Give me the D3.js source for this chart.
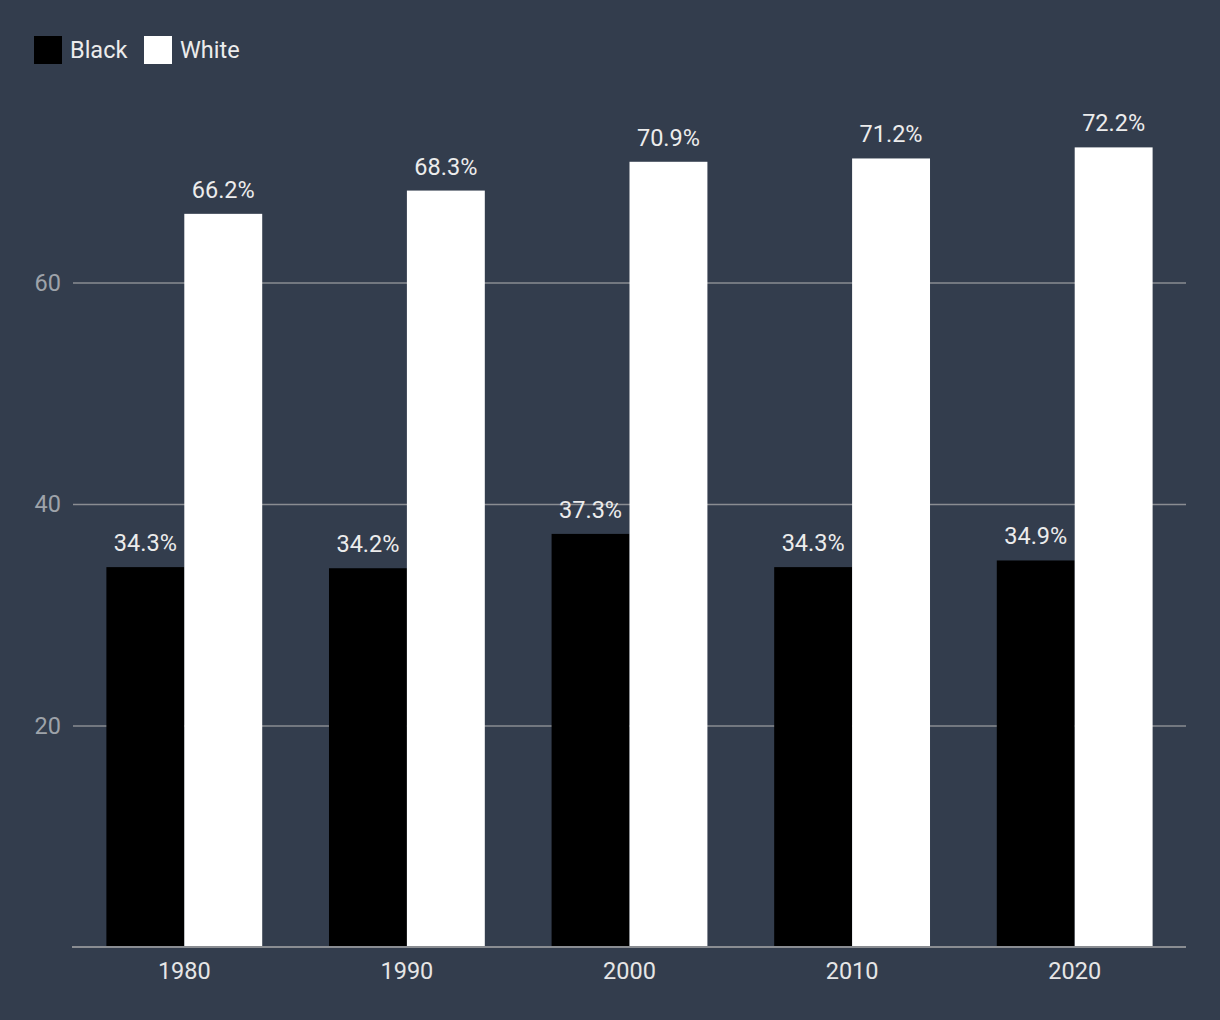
<!DOCTYPE html>
<html><head><meta charset="utf-8">
<script src="https://cdn.jsdelivr.net/npm/d3@7"></script>
<style>html,body{margin:0;padding:0;background:#333d4d;}svg{display:block;font-family:Roboto,sans-serif;}</style>
</head><body>
<svg id="c" width="1220" height="1020"></svg>
<script>
const years = ["1980","1990","2000","2010","2020"];
const seriesNames = ["Black","White"];
const blackValues = [34.3,34.2,37.3,34.3,34.9];
const whiteValues = [66.2,68.3,70.9,71.2,72.2];
const yTicks = [20,40,60];
const colors = ["#000000","#ffffff"];

(function(){
const svg = d3.select("#c");
const W=1220,H=1020;
svg.append("rect").attr("width",W).attr("height",H).attr("fill","#333d4d");
const left=73,right=1186,bottom=947;
const FS=23.5;
const x = d3.scaleBand().domain(years).range([left,right]).paddingInner(0.3).paddingOuter(0.15);
const x1 = d3.scaleBand().domain(seriesNames).range([0,x.bandwidth()]);
const y = d3.scaleLinear().domain([0,80]).range([bottom,bottom-80*11.075]);

// grid
const ga = svg.append("g").attr("transform",`translate(${left},0)`)
  .call(d3.axisLeft(y).tickValues(yTicks).tickSize(-(right-left)).tickPadding(12));
ga.select(".domain").remove();
ga.selectAll(".tick line").attr("stroke","#8a8d92").attr("stroke-width",1.3);
ga.selectAll(".tick text").attr("fill","#9ea3aa").attr("font-size",FS).attr("font-family","Roboto,sans-serif");

const data = years.map((yr,i)=>({year:yr, vals:[blackValues[i],whiteValues[i]]}));
const g = svg.selectAll(".grp").data(data).enter().append("g").attr("transform",d=>`translate(${x(d.year)},0)`);
g.selectAll("rect").data(d=>d.vals.map((v,j)=>({name:seriesNames[j],v,j}))).enter().append("rect")
  .attr("x",d=>x1(d.name)).attr("width",x1.bandwidth())
  .attr("y",d=>y(d.v)).attr("height",d=>bottom-y(d.v)).attr("fill",d=>colors[d.j]);
g.selectAll("text.lbl").data(d=>d.vals.map((v,j)=>({name:seriesNames[j],v,j}))).enter().append("text")
  .attr("class","lbl").attr("x",d=>x1(d.name)+x1.bandwidth()/2).attr("y",d=>y(d.v)-16)
  .attr("text-anchor","middle").attr("fill","#ececec").attr("font-size",FS)
  .text(d=>d.v.toFixed(1)+"%");

// x axis
const xa = svg.append("g").attr("transform",`translate(0,${bottom})`)
  .call(d3.axisBottom(x).tickSize(0).tickPadding(15));
xa.select(".domain").attr("stroke","#8a8d92").attr("stroke-width",2).attr("d",`M${left-1},0H${right}`);
xa.selectAll(".tick text").attr("fill","#e6e6e6").attr("font-size",FS).attr("font-family","Roboto,sans-serif");

// legend
const lg = svg.append("g");
const lx=[34,144];
seriesNames.forEach((n,i)=>{
  lg.append("rect").attr("x",lx[i]).attr("y",36).attr("width",28).attr("height",28).attr("fill",colors[i]);
  lg.append("text").attr("x",lx[i]+36).attr("y",57.5).attr("fill","#ececec").attr("font-size",23.5).text(n);
});
})();
</script>
</body></html>
